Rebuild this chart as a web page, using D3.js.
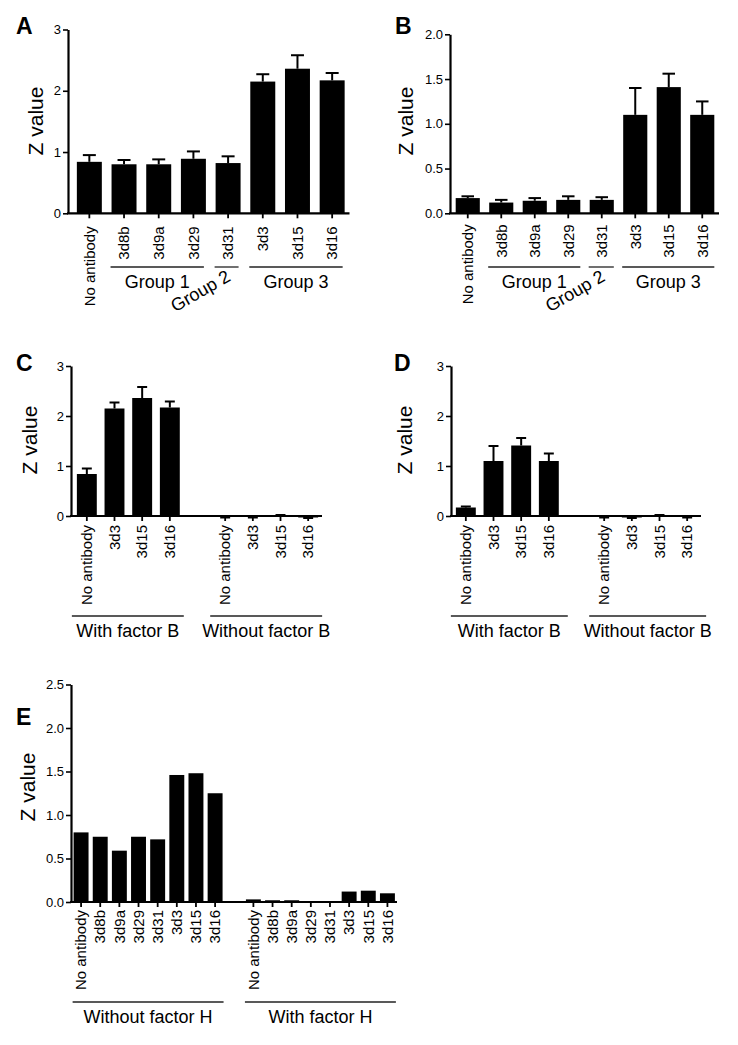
<!DOCTYPE html>
<html>
<head>
<meta charset="utf-8">
<script src="https://cdn.jsdelivr.net/npm/d3@7"></script>
<style>
  html, body { margin: 0; padding: 0; background: #fff; }
  svg { display: block; }
  text { font-family: "Liberation Sans", Arial, Helvetica, sans-serif; fill: #000; }
</style>
</head>
<body>
<svg id="chart" width="738" height="1045"></svg>
<script>
// ---------------- DATA ----------------
const catsAB = ["No antibody", "3d8b", "3d9a", "3d29", "3d31", "3d3", "3d15", "3d16"];
const groupsAB = [
  { label: "Group 1", from: 1, to: 3, slanted: false },
  { label: "Group 2", from: 4, to: 4, slanted: true },
  { label: "Group 3", from: 5, to: 7, slanted: false }
];
const valsA = [0.84, 0.80, 0.80, 0.89, 0.82, 2.15, 2.36, 2.17];
const errA  = [0.11, 0.07, 0.08, 0.12, 0.11, 0.12, 0.22, 0.12];
const valsB = [0.17, 0.12, 0.14, 0.15, 0.15, 1.10, 1.41, 1.10];
const errB  = [0.02, 0.03, 0.03, 0.04, 0.03, 0.30, 0.15, 0.15];

const catsCD = ["No antibody", "3d3", "3d15", "3d16"];
const groupsCD = ["With factor B", "Without factor B"];
const valsCwith    = [0.84, 2.15, 2.36, 2.17];
const errCwith     = [0.11, 0.12, 0.22, 0.12];
const valsCwithout = [-0.02, -0.02, 0.01, -0.03];
const errCwithout  = [0.01, 0.01, 0.01, 0.01];
const valsDwith    = [0.17, 1.10, 1.41, 1.10];
const errDwith     = [0.02, 0.30, 0.15, 0.15];
const valsDwithout = [-0.02, -0.03, 0.01, -0.02];
const errDwithout  = [0.01, 0.01, 0.01, 0.01];

const catsE = ["No antibody", "3d8b", "3d9a", "3d29", "3d31", "3d3", "3d15", "3d16"];
const groupsE = ["Without factor H", "With factor H"];
const valsEwithout = [0.80, 0.75, 0.59, 0.75, 0.72, 1.46, 1.48, 1.25];
const valsEwith    = [0.03, 0.02, 0.02, 0.01, 0.01, 0.12, 0.13, 0.10];

const ticksInt = [0, 1, 2, 3];
const ticksB = [0, 0.5, 1.0, 1.5, 2.0];
const ticksE = [0, 0.5, 1.0, 1.5, 2.0, 2.5];
const yTitle = "Z value";

// ---------------- DRAW ----------------
const svg = d3.select("#chart");
const FONT = '"Liberation Sans", Arial, Helvetica, sans-serif';

function drawPanel(cfg) {
  const g = svg.append("g");
  const keys = cfg.slots.map(s => s.key);
  const x = d3.scaleBand().domain(keys).range(cfg.xRange).padding(0);
  const step = x.step();
  const bw = step * cfg.barFrac;
  const y = d3.scaleLinear().domain([0, cfg.yMax]).range(cfg.yRange);
  const y0 = y(0);

  // bars
  const data = cfg.slots.filter(s => !s.gap);
  g.selectAll("rect.bar").data(data).join("rect")
    .attr("class", "bar")
    .attr("x", d => x(d.key) + (step - bw) / 2)
    .attr("y", d => y(Math.max(0, d.v)))
    .attr("width", bw)
    .attr("height", d => Math.max(0.8, Math.abs(y(d.v) - y0)))
    .attr("fill", "#000");

  // error bars
  const eb = data.filter(d => d.e != null);
  const cap = bw * cfg.capFrac;
  eb.forEach(d => {
    const cx = x(d.key) + step / 2;
    const tip = d.v >= 0 ? d.v + d.e : d.v - d.e;
    g.append("line").attr("x1", cx).attr("x2", cx)
      .attr("y1", y(d.v)).attr("y2", y(tip))
      .attr("stroke", "#000").attr("stroke-width", 2);
    g.append("line").attr("x1", cx - cap / 2).attr("x2", cx + cap / 2)
      .attr("y1", y(tip)).attr("y2", y(tip))
      .attr("stroke", "#000").attr("stroke-width", 2);
  });

  // y axis
  const ya = g.append("g").attr("transform", `translate(${cfg.axisX},0)`)
    .call(d3.axisLeft(y).tickValues(cfg.yTicks).tickFormat(d3.format(cfg.yFmt))
      .tickSize(5).tickSizeOuter(0).tickPadding(2));
  ya.select(".domain").attr("stroke-width", 2.2);
  ya.selectAll(".tick line").attr("stroke-width", 1.6);
  ya.selectAll(".tick text").style("font-size", "13px").style("font-family", FONT);

  // x axis
  const xa = g.append("g").attr("transform", `translate(0,${y0})`)
    .call(d3.axisBottom(x).tickValues(data.map(d => d.key))
      .tickFormat(k => cfg.slots.find(s => s.key === k).label)
      .tickSize(5).tickSizeOuter(0).tickPadding(0));
  xa.select(".domain").remove();
  xa.selectAll(".tick line").attr("stroke-width", 1.8);
  xa.selectAll(".tick text")
    .style("font-size", cfg.catFont + "px")
    .style("font-family", FONT)
    .attr("text-anchor", "end")
    .attr("y", 0).attr("dy", "0.35em")
    .attr("transform", `translate(0,${cfg.catOffset}) rotate(-90)`);
  g.append("line").attr("x1", cfg.axisX - 1).attr("x2", cfg.xRange[1])
    .attr("y1", y0).attr("y2", y0).attr("stroke", "#000").attr("stroke-width", 2.2);

  // groups
  cfg.groups.forEach(gr => {
    const k1 = data[gr.from].key, k2 = data[gr.to].key;
    const xa1 = x(k1) + (step - bw) / 2 - cfg.lineExt[0];
    const xa2 = x(k2) + (step + bw) / 2 + cfg.lineExt[1];
    g.append("line").attr("x1", xa1).attr("x2", xa2)
      .attr("y1", cfg.groupLineY).attr("y2", cfg.groupLineY)
      .attr("stroke", "#222").attr("stroke-width", 1.3);
    const cx = (xa1 + xa2) / 2;
    if (gr.slanted) {
      g.append("text").text(gr.label)
        .attr("text-anchor", "end")
        .attr("transform", `translate(${cx + 5},${cfg.groupLineY + 13}) rotate(-30)`)
        .style("font-size", cfg.groupFont + "px");
    } else {
      g.append("text").text(gr.label)
        .attr("x", cx).attr("y", cfg.groupLineY + 21)
        .attr("text-anchor", "middle")
        .style("font-size", cfg.groupFont + "px");
    }
  });

  // y title
  g.append("text").text(yTitle)
    .attr("text-anchor", "middle")
    .attr("transform", `translate(${cfg.titlePos[0]},${cfg.titlePos[1]}) rotate(-90)`)
    .attr("dy", "0.35em")
    .style("font-size", "21px");

  // panel letter
  g.append("text").text(cfg.letter)
    .attr("x", cfg.letterPos[0]).attr("y", cfg.letterPos[1])
    .style("font-size", "23px").style("font-weight", "bold");
}

function slotsFlat(cats, vals, errs) {
  return cats.map((c, i) => ({ key: "s" + i, label: c, v: vals[i], e: errs ? errs[i] : null }));
}
function slotsTwo(cats, v1, e1, v2, e2) {
  const a = cats.map((c, i) => ({ key: "a" + i, label: c, v: v1[i], e: e1 ? e1[i] : null }));
  const b = cats.map((c, i) => ({ key: "b" + i, label: c, v: v2[i], e: e2 ? e2[i] : null }));
  return a.concat([{ key: "gap", gap: true }], b);
}
function twoGroups(labels, n) {
  return [
    { label: labels[0], from: 0, to: n - 1, slanted: false },
    { label: labels[1], from: n, to: 2 * n - 1, slanted: false }
  ];
}

// Panel A
drawPanel({
  letter: "A", letterPos: [16, 34],
  slots: slotsFlat(catsAB, valsA, errA), groups: groupsAB,
  xRange: [72, 349.5], axisX: 68, barFrac: 0.72, capFrac: 0.52,
  yMax: 3, yRange: [213.3, 29.5], yTicks: ticksInt, yFmt: "d",
  catFont: 15, catOffset: 13, groupLineY: 267, groupFont: 18, lineExt: [1, -2],
  titlePos: [36, 121]
});
// Panel B
drawPanel({
  letter: "B", letterPos: [395, 34],
  slots: slotsFlat(catsAB, valsB, errB), groups: groupsAB,
  xRange: [451, 719], axisX: 450, barFrac: 0.72, capFrac: 0.52,
  yMax: 2, yRange: [213.3, 34.3], yTicks: ticksB, yFmt: ".1f",
  catFont: 15, catOffset: 11, groupLineY: 267, groupFont: 18, lineExt: [1, 0],
  titlePos: [406, 121]
});
// Panel C
drawPanel({
  letter: "C", letterPos: [16, 371],
  slots: slotsTwo(catsCD, valsCwith, errCwith, valsCwithout, errCwithout), groups: twoGroups(groupsCD, 4),
  xRange: [73, 322], axisX: 71, barFrac: 0.72, capFrac: 0.5,
  yMax: 3, yRange: [516, 366], yTicks: ticksInt, yFmt: "d",
  catFont: 15, catOffset: 9, groupLineY: 616, groupFont: 18, lineExt: [5, 4],
  titlePos: [30, 440]
});
// Panel D
drawPanel({
  letter: "D", letterPos: [394, 371],
  slots: slotsTwo(catsCD, valsDwith, errDwith, valsDwithout, errDwithout), groups: twoGroups(groupsCD, 4),
  xRange: [452, 701], axisX: 451, barFrac: 0.72, capFrac: 0.5,
  yMax: 3, yRange: [516, 366], yTicks: ticksInt, yFmt: "d",
  catFont: 15, catOffset: 9, groupLineY: 616, groupFont: 18, lineExt: [5, 9],
  titlePos: [405, 440]
});
// Panel E
drawPanel({
  letter: "E", letterPos: [16, 725],
  slots: slotsTwo(catsE, valsEwithout, null, valsEwith, null), groups: twoGroups(groupsE, 8),
  xRange: [71.5, 397], axisX: 71, barFrac: 0.78, capFrac: 0.5,
  yMax: 2.5, yRange: [902, 684.5], yTicks: ticksE, yFmt: ".1f",
  catFont: 15, catOffset: 8, groupLineY: 1002, groupFont: 18, lineExt: [1, 1],
  titlePos: [28, 787]
});
</script>
</body>
</html>
